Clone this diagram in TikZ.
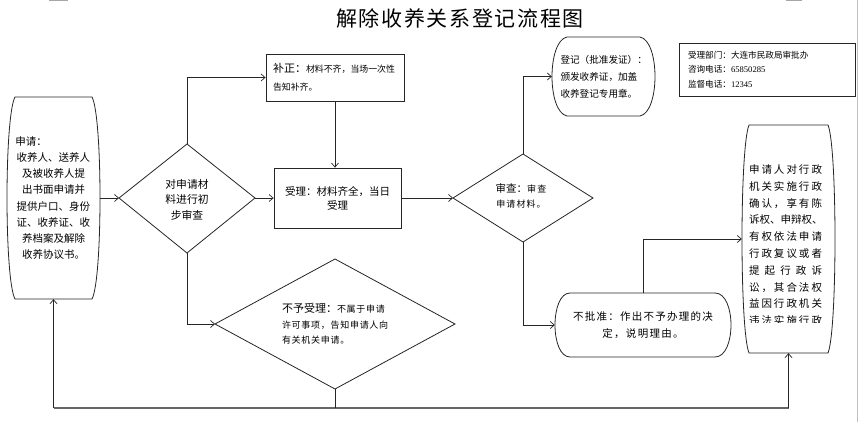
\documentclass[tikz,border=0pt]{standalone}
\usepackage{fontspec}
\setmainfont{Noto Sans CJK SC}
\newfontfamily\numfont{Liberation Serif}
\usetikzlibrary{arrows.meta,calc}
\newcommand\fsz[2]{\fontsize{#1}{#2}\selectfont}
\newcommand\ls[1]{\addfontfeature{LetterSpace=#1}}
\def\sprfirst#1{#1\sprrest}
\def\sprrest#1{\ifx\relax#1\else\hfil#1\expandafter\sprrest\fi}
\newcommand\spr[1]{\makebox[73pt][s]{\sprfirst#1\relax}}
\tikzset{
  ln/.style={draw=black!85, line width=0.7pt},
  arr/.style={ln, -{Straight Barb[length=4pt,width=7pt]}},
  outl/.style={draw=black!85, line width=0.8pt},
  lbl/.style={inner sep=0pt, align=center},
  bottomln/.style={draw=black!60, line width=1.6pt},
  pagemark/.style={draw=black!35, line width=1pt},
}
\begin{document}
\begin{tikzpicture}[x=1pt,y=-1pt]
\useasboundingbox (0,0) rectangle (860,422);
\fill[white] (0,0) rectangle (860,422);

% page marks
\draw[pagemark] (49,0.5) -- (68,0.5);
\draw[pagemark] (786,0.5) -- (802,0.5);
\draw[draw=black!25, line width=0.8pt] (857.5,0) -- (857.5,422);

% title
\node[inner sep=0, font=\fsz{21}{21}\ls{8}] (title) at (460,19) {解除收养关系登记流程图};

% left node
\node[minimum width=93pt, minimum height=202pt, inner sep=0, text width=76pt, align=center, font=\fsz{10.5}{16.1}] (L) at (53.5,198)
  {申请：\hfill\null\\收养人、送养人\\及被收养人提\\出书面申请并\\提供户口、身份\\证、收养证、收\\养档案及解除\\收养协议书。};
\draw[outl] (15,97) -- (92,97) .. controls (102.67,117) and (102.67,279) .. (92,299) -- (15,299) .. controls (4.33,279) and (4.33,117) .. (15,97) -- cycle;

% diamond 1
\coordinate (D1w) at (119,198);
\coordinate (D1e) at (255,198);
\coordinate (D1n) at (187,144);
\coordinate (D1s) at (187,253);
\draw[outl] (D1w) -- (D1n) -- (D1e) -- (D1s) -- cycle;
\node[lbl, font=\fsz{10.8}{15.5}] (D1t) at (187,199.5) {对申请材\\料进行初\\步审查};

% buzheng box
\node[outl, draw, minimum width=138pt, minimum height=47pt, inner sep=0, text width=124pt, align=left, font=\fsz{8.9}{18}] (B) at (335,77.5)
  {{\fsz{11}{18}补正：}材料不齐，当场一次性\\告知补齐。};

% shouli box
\node[outl, draw, minimum width=127pt, minimum height=60pt, inner sep=0, align=center, font=\fsz{10.5}{14}] (S) at (337.5,198)
  {受理：材料齐全，当日\\受理};

% diamond 2
\coordinate (D2w) at (453,198);
\coordinate (D2e) at (593,198);
\coordinate (D2n) at (523,154);
\coordinate (D2s) at (523,242);
\draw[outl] (D2w) -- (D2n) -- (D2e) -- (D2s) -- cycle;
\node[lbl, font=\fsz{9}{15}] (D2t) at (521,196) {{\fsz{10.5}{15}审查：}{\ls{15}审查}\\{\ls{12}申请材料。}};

% dengji node
\node[minimum width=103pt, minimum height=79pt, inner sep=0, text width=86pt, align=left, font=\fsz{9.6}{17}] (G) at (603.5,76.5)
  {登记（批准发证）：\\颁发收养证，加盖\\收养登记专用章。};
\draw[outl] (567,37) -- (640,37) .. controls (660,41) and (660,112) .. (640,116) -- (567,116) .. controls (547,112) and (547,41) .. (567,37) -- cycle;

% info box
\node[outl, draw, minimum width=176pt, minimum height=53pt, inner sep=0, text width=158pt, align=left, font=\fsz{8.6}{14.5}] (I) at (767,69.5)
  {受理部门：大连市民政局审批办\\咨询电话：{\numfont 65850285}\\监督电话：{\numfont 12345}};

% diamond 3
\coordinate (D3w) at (215,324);
\coordinate (D3e) at (455,324);
\coordinate (D3n) at (335,259);
\coordinate (D3s) at (335,389);
\draw[outl] (D3w) -- (D3n) -- (D3e) -- (D3s) -- cycle;
\node[lbl, text width=108pt, align=left, font=\fsz{9}{15.5}\ls{8}] (D3t) at (336,324)
  {{\fsz{11}{15.5}\ls{0}不予受理：}不属于申请\\许可事项，告知申请人向\\有关机关申请。};

% bupizhun node
\node[minimum width=176pt, minimum height=64pt, inner sep=0, align=center, font=\fsz{10.5}{17}\ls{12}] (N) at (643,325)
  {不批准：作出不予办理的决\\定，说明理由。};
\draw[outl] (570,293) -- (715,293) .. controls (736.33,293) and (736.33,357) .. (715,357) -- (570,357) .. controls (550,357) and (550,293) .. (570,293) -- cycle;

% right node
\node[minimum width=93pt, minimum height=228pt, inner sep=0] (R) at (788.5,239) {};
\draw[outl] (749,125) -- (828,125) .. controls (837.33,148) and (837.33,330) .. (828,353) -- (749,353) .. controls (739.67,330) and (739.67,148) .. (749,125) -- cycle;
\begin{scope}
  \clip (738,120) rectangle (840,322);
  \node[lbl, anchor=north, font=\fsz{10.5}{16.8}] (Rt) at (785.5,164.5)
    {\spr{申请人对行政}\\\spr{机关实施行政}\\\spr{确认，享有陈}\\\spr{诉权、申辩权、}\\\spr{有权依法申请}\\\spr{行政复议或者}\\\spr{提起行政诉}\\\spr{讼，其合法权}\\\spr{益因行政机关}\\\spr{违法实施行政}};
\end{scope}

% connectors
\draw[arr] (L.east) -- (D1w);
\draw[arr] (D1n) |- (B.west);
\draw[arr] (B.south) -- (B.south |- S.north);
\draw[arr] (D1e) -- (S.west);
\draw[arr] (S.east) -- (D2w);
\draw[arr] (D2n) |- (G.west);
\draw[arr] (D2s) |- (N.west);
\draw[arr] (N.north) |- (R.west);
\draw[arr] (D1s) |- (D3w);
\coordinate (BL) at (53.5,408);
\coordinate (BR) at (788.5,408);
\draw[bottomln] (BL) -- (BR);
\draw[arr] (BL) -- (L.south);
\draw[arr] (BR) -- (R.south);
\draw[ln] (D3s) -- (D3s |- BL);
\end{tikzpicture}
\end{document}
